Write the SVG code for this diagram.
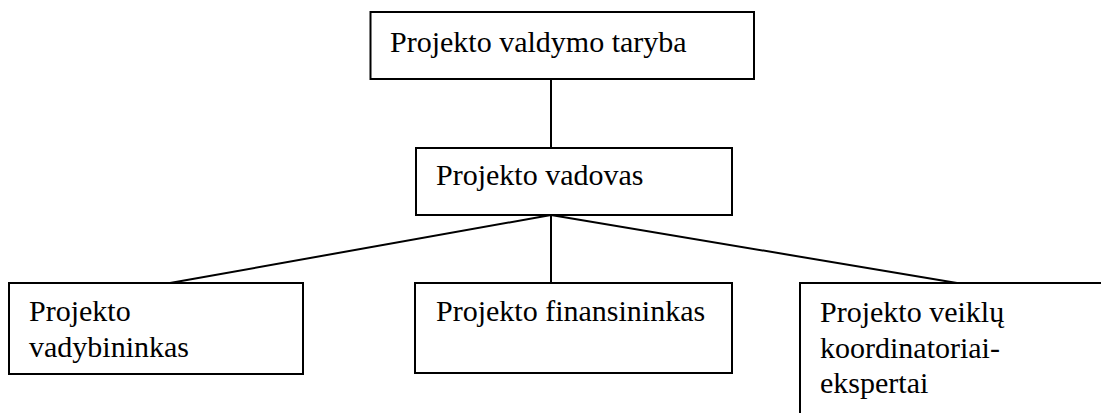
<svg xmlns="http://www.w3.org/2000/svg" width="1101" height="413" viewBox="0 0 1101 413">
<style>
.box{fill:#fff;stroke:#000;stroke-width:2}
.t{font-size:30px;fill:#000}
.c{stroke:#000;stroke-width:2;fill:none}
</style>
<rect width="1101" height="413" fill="#fff"/>
<g id="connectors">
<line class="c" x1="551" y1="79" x2="551" y2="148"/>
<line class="c" x1="551" y1="215" x2="170" y2="283"/>
<line class="c" x1="551" y1="215" x2="551" y2="283"/>
<line class="c" x1="551" y1="215" x2="957" y2="283"/>
</g>
<g font-family="Liberation Serif, DejaVu Serif, serif">
<g id="n-taryba">
<rect class="box" x="370.5" y="12" width="383.5" height="67"/>
<text class="t" x="390" y="52">Projekto valdymo taryba</text>
</g>
<g id="n-vadovas">
<rect class="box" x="416" y="148" width="316" height="67"/>
<text class="t" x="436" y="185">Projekto vadovas</text>
</g>
<g id="n-vadybininkas">
<rect class="box" x="9" y="283" width="294" height="91"/>
<text class="t" x="29" y="321">Projekto</text>
<text class="t" x="29" y="357">vadybininkas</text>
</g>
<g id="n-finansininkas">
<rect class="box" x="415" y="283" width="317" height="90"/>
<text class="t" x="436" y="321">Projekto finansininkas</text>
</g>
<g id="n-koordinatoriai">
<path class="c" d="M800,420 V283 H1110"/>
<text class="t" x="820" y="322">Projekto veiklų</text>
<text class="t" x="820" y="358">koordinatoriai-</text>
<text class="t" x="820" y="393">ekspertai</text>
</g>
</g>
</svg>
